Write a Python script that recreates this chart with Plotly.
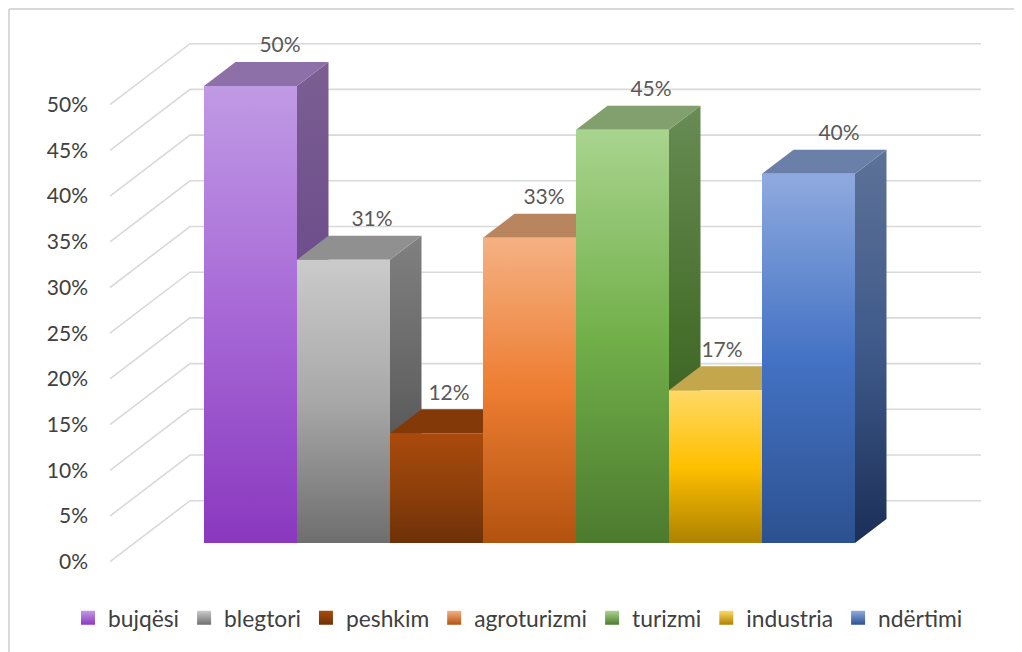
import plotly.graph_objects as go

# ---- data ----
categories = ["bujqësi", "blegtori", "peshkim", "agroturizmi", "turizmi", "industria", "ndërtimi"]
values = [50.0, 31.0, 12.0, 33.4, 45.2, 16.7, 40.4]
tick_values = [0, 5, 10, 15, 20, 25, 30, 35, 40, 45, 50]

# ---- styles: (top, middle, bottom) of each face gradient ----
front_colors = [
    ("#C09AE5", "#A768D6", "#8A38BF"),
    ("#CBCBCB", "#A8A8A8", "#6E6E6E"),
    ("#AA4A0B", "#8F400B", "#6E3108"),
    ("#F5B183", "#ED7D31", "#B2520F"),
    ("#A9D48F", "#72B04A", "#4C7A2E"),
    ("#FFD966", "#FFC000", "#AE8200"),
    ("#8FAADF", "#4472C4", "#2C5190"),
]
side_colors = [
    ("#7B5F92", "#6B4A8A", "#4B2080"),
    ("#808080", "#646464", "#404040"),
    ("#843A08", "#6E3108", "#4E2305"),
    ("#B0683A", "#9A5522", "#73380A"),
    ("#688C54", "#47702D", "#30511C"),
    ("#B08D2C", "#A68000", "#745A00"),
    ("#5D7297", "#3F5A8A", "#1B2F57"),
]
top_colors = ["#8E70A9", "#909090", "#843A08", "#B9855F", "#82A06E", "#C4A64C", "#6A80A9"]
label_dx_px = [29.5, 28.5, 12.5, 14.5, 28.5, 6.5, 30.5]

# ---- projection geometry; the page body adds an 8px margin ----
PAGE = 8
W, H = 1022, 652 - PAGE
MARGIN_L = 89 - PAGE
PX_X = 93.0          # one category
PX_Y = 9.14          # one percent
X0_PX = 204.0 - PAGE # left of the first bar
Y0_PX = 561.7 - PAGE # 0% on the front of the walls
BAR_BASE = (Y0_PX - (543.0 - PAGE)) / PX_Y
DEPTH_X = 31.5 / PX_X
DEPTH_Y = 24.0 / PX_Y
WALL_Y = 61.0 / PX_Y
WALL_FRONT_X = (110 - PAGE - X0_PX) / PX_X
WALL_BACK_X = (190 - PAGE - X0_PX) / PX_X
WALL_END_X = (981 - PAGE - X0_PX) / PX_X

fig = go.Figure()

# walls and gridlines
for t in tick_values:
    fig.add_trace(go.Scatter(
        x=[WALL_FRONT_X, WALL_BACK_X, WALL_END_X],
        y=[t, t + WALL_Y, t + WALL_Y],
        mode="lines", line=dict(color="#D9D9D9", width=1.6),
        hoverinfo="skip", showlegend=False,
    ))


def face(xs, ys, colors):
    low, high = min(ys), max(ys)
    return go.Scatter(
        x=xs, y=ys, mode="lines", fill="toself", line=dict(width=0),
        fillgradient=dict(
            type="vertical", start=low, stop=high,
            colorscale=[[0, colors[2]], [0.5, colors[1]], [1, colors[0]]],
        ),
        hoverinfo="skip", showlegend=False,
    )


for i, v in enumerate(values):
    x0, x1 = i, i + 1
    y0, y1 = BAR_BASE, BAR_BASE + v
    # right side
    fig.add_trace(face(
        [x1, x1 + DEPTH_X, x1 + DEPTH_X, x1, x1],
        [y0, y0 + DEPTH_Y, y1 + DEPTH_Y, y1, y0],
        side_colors[i],
    ))
    # top
    fig.add_trace(go.Scatter(
        x=[x0, x0 + DEPTH_X, x1 + DEPTH_X, x1, x0],
        y=[y1, y1 + DEPTH_Y, y1 + DEPTH_Y, y1, y1],
        mode="lines", fill="toself", fillcolor=top_colors[i], line=dict(width=0),
        hoverinfo="skip", showlegend=False,
    ))
    # front
    fig.add_trace(face(
        [x0, x1, x1, x0, x0],
        [y0, y0, y1, y1, y0],
        front_colors[i],
    ))

# data labels
fig.add_trace(go.Scatter(
    x=[i + 0.5 + dx / PX_X for i, dx in enumerate(label_dx_px)],
    y=[BAR_BASE + v + 39.0 / PX_Y for v in values],
    mode="text", text=[f"{v:.0f}%" for v in values], textposition="middle center",
    textfont=dict(family="Lato", size=21, color="#595959"),
    hoverinfo="skip", showlegend=False, cliponaxis=False,
))

# legend entries
for name, c in zip(categories, front_colors):
    fig.add_trace(go.Scatter(
        x=[None], y=[None], mode="markers", name=name,
        marker=dict(symbol="square", size=14, color=c[0],
                    gradient=dict(type="vertical", color=c[2]), line=dict(width=0)),
    ))

line_x = (1 - MARGIN_L) / (W - MARGIN_L)
line_y = (H - 1) / H
fig.update_layout(
    width=W, height=H,
    margin=dict(l=MARGIN_L, r=0, t=0, b=0, autoexpand=False),
    paper_bgcolor="white", plot_bgcolor="white",
    font=dict(family="Lato", size=21, color="#404040"),
    xaxis=dict(visible=False, range=[(MARGIN_L - X0_PX) / PX_X, (W - X0_PX) / PX_X], fixedrange=True),
    yaxis=dict(
        range=[(Y0_PX - H) / PX_Y, Y0_PX / PX_Y],
        tickvals=tick_values, ticktext=[f"{t}%" for t in tick_values],
        showgrid=False, zeroline=False, showline=False, ticks="", fixedrange=True,
    ),
    legend=dict(
        orientation="h", xref="container", yref="container",
        x=60 / W, xanchor="left", y=(652 - 618) / H, yanchor="middle",
        font=dict(family="Lato", size=22.8, color="#404040"),
        bgcolor="rgba(0,0,0,0)", itemclick=False, itemdoubleclick=False,
    ),
    shapes=[
        dict(type="line", xref="paper", yref="paper",
             x0=line_x, x1=line_x, y0=0, y1=line_y,
             line=dict(color="#D9D9D9", width=2)),
        dict(type="line", xref="paper", yref="paper",
             x0=line_x, x1=1, y0=line_y, y1=line_y,
             line=dict(color="#D9D9D9", width=2)),
    ],
)

fig.write_html("out.html")
